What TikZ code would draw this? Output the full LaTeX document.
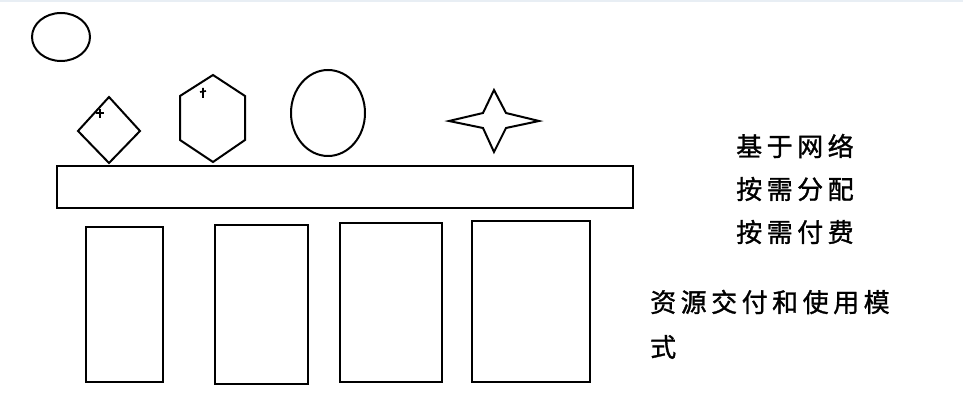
\documentclass[tikz,border=0pt]{standalone}
\usepackage{fontspec}
\newfontfamily\cjk[FakeBold=1.2]{Noto Sans CJK SC}
\newcommand{\gp}{\hspace{4.5pt}}
\begin{document}
\begin{tikzpicture}[x=1pt,y=-1pt,
  shp/.style={draw=black,line width=2pt,line join=miter},
  tick/.style={draw=black,line width=1.6pt},
  lbl/.style={font=\cjk\fontsize{26}{30}\selectfont,inner sep=0pt,anchor=west}]
\useasboundingbox (0,0) rectangle (963,411);
\fill[fill={rgb,255:red,232;green,238;blue,244}] (0,0) rectangle (963,2);
% small ellipse
\draw[shp] (61,37) ellipse [x radius=29,y radius=24];
% diamond
\draw[shp] (109,97) -- (140,131) -- (109,163) -- (78,131) -- cycle;
\draw[tick] (96,113) -- (104,113) (100,109) -- (100,118);
% hexagon
\draw[shp] (213,75) -- (245,96) -- (245,140) -- (213,162) -- (180,140) -- (180,96) -- cycle;
\draw[tick] (203,88) -- (203,98) (200,92) -- (206,91);
% big ellipse
\draw[shp] (328,113) ellipse [x radius=37,y radius=43];
% four-point star
\draw[shp] (494,90) -- (506,113) -- (539,121) -- (506,128) -- (494,152) -- (483,128) -- (449,121) -- (483,113) -- cycle;
% wide bar
\draw[shp] (57,166) rectangle (633,208);
% lower boxes
\draw[shp] (86,227) rectangle (163,382);
\draw[shp] (215,225) rectangle (308,384);
\draw[shp] (340,223) rectangle (442,382);
\draw[shp] (472,221) rectangle (590,382);
% texts
\node[lbl] (t1) at (736,146) {基\gp 于\gp 网\gp 络};
\node[lbl] (t2) at (736,189) {按\gp 需\gp 分\gp 配};
\node[lbl] (t3) at (736,232) {按\gp 需\gp 付\gp 费};
\node[lbl] (t4) at (650,302) {资\gp 源\gp 交\gp 付\gp 和\gp 使\gp 用\gp 模};
\node[lbl] (t5) at (650,347) {式};
\end{tikzpicture}
\end{document}
